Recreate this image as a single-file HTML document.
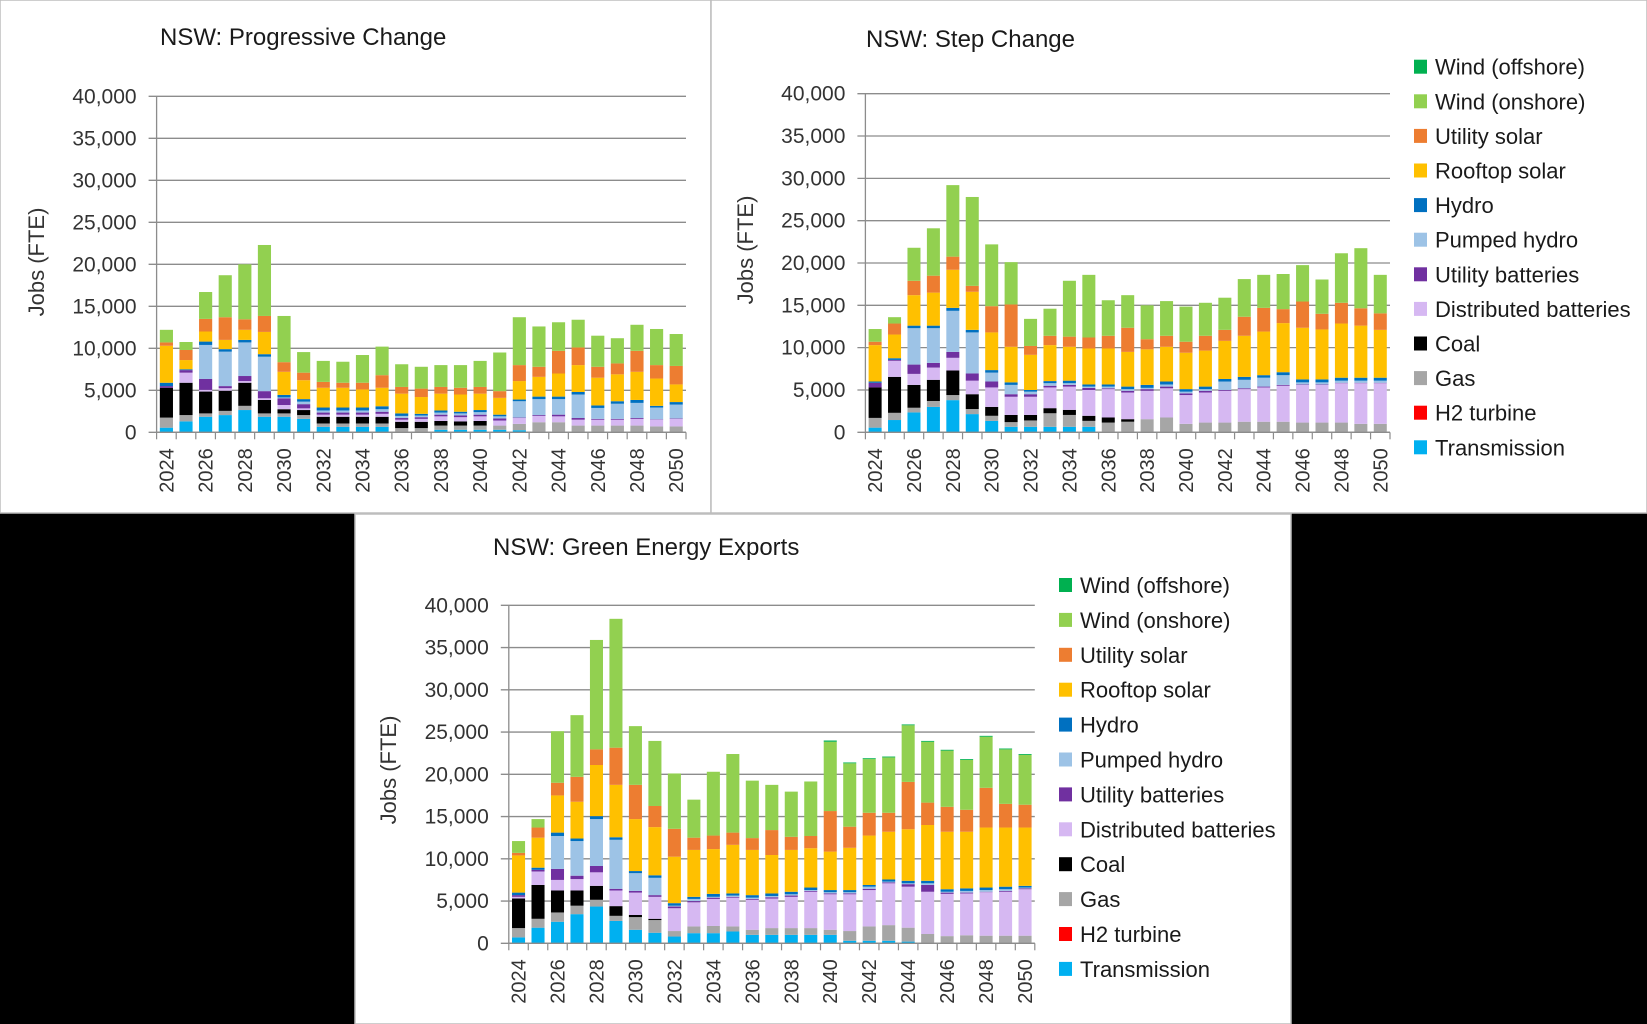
<!DOCTYPE html>
<html><head><meta charset="utf-8"><title>NSW jobs charts</title>
<style>
html,body{margin:0;padding:0;background:#000;}
#wrap{position:relative;width:1647px;height:1024px;background:#000;overflow:hidden;}
svg{position:absolute;left:0;top:0;}
text{font-family:"Liberation Sans",sans-serif;}
</style></head>
<body>
<div id="wrap">
<svg id="svg" width="1647" height="1024" viewBox="0 0 1647 1024">
  <rect x="0" y="0" width="711" height="513" fill="#fff" stroke="#bdbdbd" stroke-width="1.5"/>
  <rect x="711" y="0" width="936" height="513" fill="#fff" stroke="#bdbdbd" stroke-width="1.5"/>
  <rect x="355" y="514" width="936" height="510" fill="#fff" stroke="#bdbdbd" stroke-width="1.5"/>
</svg>
</div>
<script>
// ---- shared data ----
const years = [2024,2025,2026,2027,2028,2029,2030,2031,2032,2033,2034,2035,2036,2037,2038,2039,2040,2041,2042,2043,2044,2045,2046,2047,2048,2049,2050];
const seriesNames = ["Transmission","H2 turbine","Gas","Coal","Distributed batteries","Utility batteries","Pumped hydro","Hydro","Rooftop solar","Utility solar","Wind (onshore)","Wind (offshore)"];
const seriesColors = ["#00b0f0","#ff0000","#a6a6a6","#000000","#d6b8f2","#7030a0","#9dc3e6","#0070c0","#ffc000","#ed7d31","#92d050","#00b050"];
const yTicks = [0,5000,10000,15000,20000,25000,30000,35000,40000];
const yTickLabels = ["0","5,000","10,000","15,000","20,000","25,000","30,000","35,000","40,000"];
const yMax = 40000;

// ---- Progressive Change (thousands FTE) ----
const pcTransmission = [0.55,1.3,1.85,2.05,2.65,1.85,1.85,1.6,0.65,0.65,0.65,0.65,0,0,0.3,0.3,0.3,0.3,0.25,0,0,0,0,0,0,0,0];
const pcH2 = [0,0,0,0,0,0,0,0,0,0,0,0,0,0,0,0,0,0,0,0,0,0,0,0,0,0,0];
const pcGas = [1.2,0.75,0.4,0.5,0.5,0.4,0.4,0.45,0.4,0.4,0.4,0.4,0.5,0.5,0.5,0.5,0.5,0.5,0.75,1.2,1.2,0.8,0.8,0.8,0.8,0.7,0.7];
const pcCoal = [3.55,3.85,2.6,2.4,2.75,1.6,0.5,0.6,0.8,0.8,0.8,0.8,0.75,0.75,0.55,0.5,0.55,0,0,0,0,0,0,0,0,0,0];
const pcDistBatt = [0,1.2,0.2,0.3,0.2,0.2,0.5,0.2,0.25,0.25,0.25,0.35,0.25,0.35,0.55,0.5,0.55,0.6,0.7,0.75,0.7,0.7,0.7,0.7,0.8,0.8,0.9];
const pcUtilBatt = [0.2,0.3,1.3,0.25,0.6,0.85,0.8,0.5,0.25,0.25,0.25,0.25,0.2,0.2,0.2,0.2,0.2,0.25,0.05,0.1,0.2,0.2,0.1,0.1,0.1,0.05,0.05];
const pcPumped = [0,0,4.05,4.1,4.0,4.1,0.1,0.3,0.25,0.25,0.25,0.3,0.25,0.2,0.25,0.25,0.3,0.25,1.95,1.9,1.85,2.8,1.3,1.8,1.8,1.4,1.65];
const pcHydro = [0.4,0.1,0.4,0.3,0.3,0.3,0.3,0.3,0.35,0.35,0.35,0.35,0.3,0.2,0.25,0.2,0.25,0.2,0.2,0.3,0.3,0.3,0.3,0.3,0.35,0.2,0.3];
const pcRooftop = [4.4,1.1,1.2,1.1,1.2,2.65,2.75,2.25,2.35,2.35,2.15,2.2,2.35,2.0,2.0,2.05,1.95,2.0,2.2,2.35,2.75,3.2,3.3,3.2,3.35,3.25,2.1];
const pcUtilSolar = [0.4,1.2,1.5,2.7,1.25,1.9,1.15,0.9,0.7,0.6,0.8,1.5,0.8,1.0,0.8,0.8,0.8,0.8,1.9,1.2,2.7,2.1,1.3,1.3,2.5,1.6,2.2];
const pcWindOn = [1.5,0.95,3.2,5.0,6.55,8.45,5.5,2.45,2.5,2.5,3.3,3.4,2.7,2.6,2.6,2.7,3.1,4.6,5.7,4.8,3.4,3.3,3.7,3.0,3.1,4.3,3.8];
const pcWindOff = [0,0,0,0,0,0,0,0,0,0,0,0,0,0,0,0,0,0,0,0,0,0,0,0,0,0,0];

// ---- Step Change ----
const scTransmission = [0.55,1.45,2.35,3.0,3.8,2.15,1.35,0.65,0.65,0.65,0.65,0.65,0,0,0,0,0,0,0,0,0,0,0,0,0,0,0];
const scH2 = [0,0,0,0,0,0,0,0,0,0,0,0,0,0,0,0,0,0,0,0,0,0,0,0,0,0,0];
const scGas = [1.15,0.85,0.55,0.7,0.6,0.6,0.6,0.55,0.75,1.6,1.4,0.7,1.15,1.25,1.55,1.75,1.0,1.15,1.15,1.25,1.25,1.25,1.15,1.15,1.15,1.0,1.0];
const scCoal = [3.6,4.25,2.7,2.5,2.9,1.75,1.05,0.85,0.65,0.6,0.6,0.6,0.6,0.3,0,0,0,0,0,0,0,0,0,0,0,0,0];
const scDistBatt = [0,1.9,1.3,1.45,1.5,1.6,2.3,2.15,2.15,2.45,2.75,3.05,3.35,3.15,3.35,3.45,3.4,3.55,3.75,3.85,4.05,4.25,4.45,4.45,4.65,4.8,4.8];
const scUtilBatt = [0.55,0.1,1.1,0.55,0.7,0.85,0.7,0.3,0.3,0.2,0.2,0.25,0.1,0.2,0.2,0.2,0.2,0.2,0.1,0.1,0.1,0.1,0.05,0.05,0.05,0.05,0.05];
const scPumped = [0,0,4.3,4.1,4.85,4.85,1.05,1.1,0.3,0.3,0.2,0.15,0.2,0.2,0.15,0.25,0.2,0.2,1.0,1.0,1.05,1.15,0.25,0.25,0.25,0.25,0.25];
const scHydro = [0.15,0.2,0.3,0.3,0.35,0.3,0.3,0.3,0.2,0.25,0.3,0.25,0.25,0.3,0.35,0.35,0.3,0.3,0.3,0.35,0.3,0.35,0.35,0.35,0.35,0.35,0.35];
const scRooftop = [4.3,2.8,3.6,3.9,4.5,4.5,4.45,4.2,4.15,4.25,4.0,4.25,4.25,4.1,4.2,4.1,4.3,4.25,4.5,4.85,5.15,5.8,6.1,5.9,6.4,6.15,5.65];
const scUtilSolar = [0.4,1.3,1.7,2.0,1.55,0.7,3.1,5.0,1.05,1.1,1.2,1.3,1.5,2.85,1.2,1.3,1.3,1.75,1.3,2.25,2.8,1.65,3.1,1.85,2.45,2.05,1.95];
const scWindOn = [1.5,0.75,3.9,5.6,8.45,10.5,7.3,5.0,3.2,3.2,6.6,7.4,4.2,3.85,4.0,4.1,4.15,3.9,3.8,4.45,3.9,4.15,4.3,4.05,5.85,7.1,4.55];
const scWindOff = [0,0,0,0,0,0,0,0,0,0,0,0,0,0,0,0,0,0,0,0,0,0,0,0,0,0,0];

// ---- Green Energy Exports ----
const geTransmission = [0.7,1.85,2.55,3.45,4.35,2.65,1.6,1.25,0.8,1.2,1.2,1.4,1.0,1.0,1.0,1.0,1.0,0.3,0.3,0.3,0.2,0,0,0,0,0,0];
const geH2 = [0,0,0,0,0,0,0,0,0,0,0,0,0,0,0,0,0,0,0,0,0,0,0,0,0,0,0];
const geGas = [1.1,1.05,1.1,1.0,0.8,0.6,1.5,1.5,0.65,0.8,0.85,0.6,0.6,0.8,0.8,0.8,0.6,1.15,1.7,1.85,1.65,1.1,0.85,0.95,0.9,0.9,0.9];
const geCoal = [3.5,4.0,2.6,1.8,1.65,1.15,0.25,0.15,0,0,0,0,0,0,0,0,0,0,0,0,0,0,0,0,0,0,0];
const geDistBatt = [0.2,1.6,1.25,1.35,1.6,1.85,2.65,2.6,2.7,2.85,3.2,3.4,3.55,3.5,3.7,4.3,4.2,4.35,4.3,4.95,4.85,5.0,5.0,4.95,5.15,5.2,5.5];
const geUtilBatt = [0.2,0.2,1.3,0.4,0.75,0.2,0.2,0.2,0.2,0.15,0.15,0.1,0.1,0.15,0.15,0.1,0.1,0.1,0.15,0.1,0.3,0.8,0.15,0.1,0.05,0.1,0.1];
const gePumped = [0,0,3.9,4.1,5.55,5.8,2.1,2.05,0.1,0.25,0.1,0.15,0.15,0.15,0.15,0.1,0.15,0.15,0.25,0.1,0.1,0.2,0.1,0.2,0.2,0.2,0.1];
const geHydro = [0.3,0.25,0.4,0.3,0.35,0.3,0.25,0.3,0.3,0.25,0.35,0.25,0.3,0.3,0.3,0.3,0.25,0.25,0.2,0.25,0.3,0.3,0.3,0.3,0.3,0.3,0.2];
const geRooftop = [4.4,3.55,4.4,4.35,6.05,6.2,6.15,5.7,5.5,5.55,5.3,5.75,5.35,4.55,4.95,4.65,4.55,5.0,5.85,5.65,6.1,6.6,6.8,6.7,7.1,7.0,6.9];
const geUtilSolar = [0.3,1.2,1.5,2.95,1.85,4.4,4.05,2.5,3.3,1.45,1.6,1.45,1.4,2.95,1.55,1.45,4.8,2.5,2.7,2.25,5.6,2.65,2.95,2.6,4.7,2.8,2.7];
const geWindOn = [1.4,1.0,6.1,7.3,12.95,15.25,6.95,7.7,6.55,4.5,7.55,9.3,6.8,5.35,5.35,6.45,8.2,7.5,6.35,6.55,6.7,7.2,6.65,5.9,6.05,6.45,5.9];
const geWindOff = [0,0,0,0,0,0,0,0,0,0,0,0,0,0,0,0,0.15,0.1,0.1,0.1,0.1,0.1,0.1,0.1,0.1,0.1,0.1];

const pcSeries = [pcTransmission,pcH2,pcGas,pcCoal,pcDistBatt,pcUtilBatt,pcPumped,pcHydro,pcRooftop,pcUtilSolar,pcWindOn,pcWindOff];
const scSeries = [scTransmission,scH2,scGas,scCoal,scDistBatt,scUtilBatt,scPumped,scHydro,scRooftop,scUtilSolar,scWindOn,scWindOff];
const geSeries = [geTransmission,geH2,geGas,geCoal,geDistBatt,geUtilBatt,gePumped,geHydro,geRooftop,geUtilSolar,geWindOn,geWindOff];

const NS = "http://www.w3.org/2000/svg";
const svg = document.getElementById('svg');
function mk(tag, attrs, parent, txt){
  const e = document.createElementNS(NS, tag);
  for (const k in attrs) e.setAttribute(k, attrs[k]);
  if (txt !== undefined) e.textContent = txt;
  (parent || svg).appendChild(e);
  return e;
}

function drawPanel(p){
  const g = mk('g', {});
  
  
  const yScale = v => p.y0 - (v / yMax) * (p.y0 - p.yTop);
  const step = (p.right - p.left) / years.length;
  const xCenter = i => p.left + step * (i + 0.5);
  const barW = step * 0.67;

  const t = mk('text', {x:p.titleX, y:p.titleY, 'font-size':24, fill:'#1a1a1a'}, g, p.title);
  
  

  yTicks.forEach((v, i) => {
    const y = yScale(v);
    const gl = mk('line', {x1:p.left-8, x2:p.right, y1:y, y2:y, stroke:'#8c8c8c', 'stroke-width':1.3}, g);
    
    
    const tl = mk('text', {x:p.left-20, y:y+7, 'font-size':21, fill:'#333', 'text-anchor':'end'}, g, yTickLabels[i]);
    
    
  });

  const ya = mk('line', {x1:p.left, x2:p.left, y1:p.yTop, y2:p.y0, stroke:'#8c8c8c', 'stroke-width':1.3}, g);
  
  

  const yt = mk('text', {x:0, y:0, 'font-size':22, fill:'#333', 'text-anchor':'middle', transform:`translate(${p.yLabelX},${p.yLabelY}) rotate(-90)`}, g, 'Jobs (FTE)');
  
  

  years.forEach((yr, i) => {
    let cum = 0;
    p.series.forEach((arr, s) => {
      const v = arr[i] * 1000;
      if (v <= 0) return;
      const yTopBar = yScale(cum + v), yBot = yScale(cum);
      const r = mk('rect', {x:xCenter(i)-barW/2, y:yTopBar, width:barW, height:yBot-yTopBar, fill:seriesColors[s]}, g);
      
      
      cum += v;
    });
    if (yr % 2 === 0) {
      const xl = mk('text', {x:0, y:0, 'font-size':20, fill:'#333', 'text-anchor':'end', transform:`translate(${xCenter(i)+7},${p.y0+16}) rotate(-90)`}, g, String(yr));
      
      
    }
  });
  for (let i = 0; i <= years.length; i++) {
    const x = p.left + step * i;
    const tk = mk('line', {x1:x, x2:x, y1:p.y0, y2:p.y0+7, stroke:'#8c8c8c', 'stroke-width':1.2}, g);
    
    
  }
  const xa = mk('line', {x1:p.left, x2:p.right, y1:p.y0, y2:p.y0, stroke:'#8c8c8c', 'stroke-width':1.3}, g);
  
  

  if (p.legendX) {
    const lg = mk('g', {}, g);
    
    
    for (let k = 0; k < seriesNames.length; k++) {
      const s = seriesNames.length - 1 - k;
      const cy = p.legendY + k * p.legendStep;
      const e = mk('g', {}, lg);
      
      
      mk('rect', {x:p.legendX, y:cy-7, width:13, height:14, fill:seriesColors[s]}, e);
      mk('text', {x:p.legendX+21, y:cy+8, 'font-size':22, fill:'#1a1a1a'}, e, seriesNames[s]);
    }
  }
}

drawPanel({name:'progressive-change-chart', title:'NSW: Progressive Change', series:pcSeries,
  left:156.6, right:686, y0:432.3, yTop:96.3, titleX:160, titleY:45, yLabelX:44, yLabelY:262});
drawPanel({name:'step-change-chart', title:'NSW: Step Change', series:scSeries,
  left:865.4, right:1390, y0:432.3, yTop:93.7, titleX:866, titleY:47, yLabelX:753, yLabelY:250,
  legendX:1414, legendY:66.7, legendStep:34.6});
drawPanel({name:'green-energy-exports-chart', title:'NSW: Green Energy Exports', series:geSeries,
  left:508.8, right:1034.8, y0:943.3, yTop:605.3, titleX:493, titleY:555, yLabelX:396, yLabelY:770,
  legendX:1059, legendY:585, legendStep:34.9});
</script>
</body></html>
